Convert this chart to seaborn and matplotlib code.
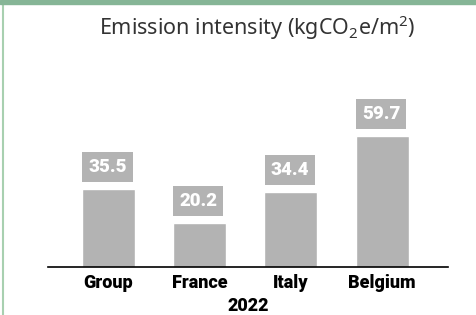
import pandas as pd
import matplotlib.pyplot as plt
import seaborn as sns
from matplotlib.patches import Rectangle
from matplotlib.lines import Line2D

# values
countries = ["Group", "France", "Italy", "Belgium"]
intensity = [35.5, 20.2, 34.4, 59.7]
year_label = "2022"
title = r"Emission intensity (kgCO$_\mathregular{2}$e/m$^\mathregular{2}$)"

GREY = "#b3b3b3"
GREEN = "#86b596"
BOLD_FONT = ["Roboto", "DejaVu Sans"]

sns.set_theme(style="white")
plt.rcParams["font.family"] = ["Noto Sans", "DejaVu Sans"]
plt.rcParams["mathtext.fontset"] = "custom"
plt.rcParams["mathtext.rm"] = "Noto Sans"

df = pd.DataFrame({"country": countries, "value": intensity})

fig = plt.figure(figsize=(4.77, 3.15), dpi=100)
ax = fig.add_axes([0.1006, 0.152, 0.8384, 0.66])

sns.barplot(data=df, x="country", y="value", color=GREY, saturation=1,
            width=0.58, ax=ax)

ax.set_xlim(-0.66, 3.72)
ax.set_ylim(0, 95)

# value labels in grey boxes above each bar
for bar, v in zip(ax.patches, intensity):
    x0 = bar.get_x()
    top = bar.get_height()
    ax.annotate(f"{v:.1f}", xy=(x0, top), xytext=(4.5, 9.5),
                textcoords="offset points", ha="left", va="bottom",
                fontsize=13.5, fontweight="black", family=BOLD_FONT,
                color="white",
                bbox=dict(boxstyle="square,pad=0.32", fc=GREY, ec="none"))

for s in ["top", "right", "left"]:
    ax.spines[s].set_visible(False)
ax.spines["bottom"].set_color("black")
ax.spines["bottom"].set_linewidth(1.2)
ax.set_yticks([])
ax.set_ylabel("")
ax.tick_params(axis="x", length=0, pad=5)
for lbl in ax.get_xticklabels():
    lbl.set_fontweight("black")
    lbl.set_family(BOLD_FONT)
    lbl.set_fontsize(13)
    lbl.set_color("black")
ax.set_xlabel(year_label, fontsize=13, fontweight="black", family=BOLD_FONT,
              color="black")
ax.xaxis.set_label_coords(0.502, -0.145)

fig.text(0.539, 0.913, title, ha="center", va="center", fontsize=15.5,
         color="#333333")

# green frame: thick bar on top, thin line on the left
fig.patches.append(Rectangle((0, 1 - 4 / 315), 1, 4 / 315, transform=fig.transFigure,
                             color=GREEN, zorder=5))
fig.lines.append(Line2D([3 / 477, 3 / 477], [0, 1], transform=fig.transFigure,
                        color="#a8d0b0", linewidth=1.5))

fig.savefig("out.png", dpi=100)
